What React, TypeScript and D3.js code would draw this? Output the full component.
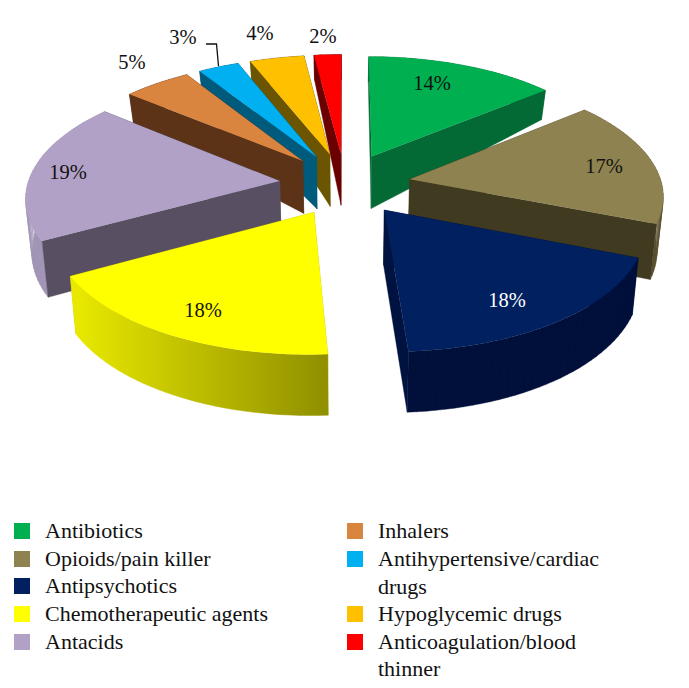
// App.tsx - exploded 3D pie of drug classes
import React from 'react';
import * as d3 from 'd3';

const categories = ['Antibiotics', 'Opioids/pain killer', 'Antipsychotics', 'Chemotherapeutic agents', 'Antacids', 'Inhalers', 'Antihypertensive/cardiac drugs', 'Hypoglycemic drugs', 'Anticoagulation/blood thinner'];
const shares = [14, 17, 18, 18, 19, 5, 3, 4, 2];
const topColors = ['#00b050', '#8e8350', '#002060', '#ffff00', '#b2a1c7', '#d98540', '#00b0f0', '#ffc000', '#ff0000'];
const sideColors = ['#046a35', '#403a20', '#00123f', '#c8c800', '#594f62', '#5c3317', '#005a7c', '#6b5500', '#6b0000'];
const rimColors = ['#046a35', '#5a5030', '#00103a', 'url(#yellowRim)', '#a295b5', '#5c3317', '#005a7c', '#6b5500', '#6b0000'];

// layout of the labels, in page pixels
const labelPos: [number, number][] = [[432, 90], [604, 173], [507, 307], [203, 317], [68, 179], [132, 69], [183, 44], [260, 40], [323, 43]];
const labelFill = ['#111', '#111', '#fff', '#111', '#111', '#111', '#111', '#111', '#111'];
const sliceShift: [number, number][] = [[-2, 0], [-2, 0], [-2, 0], [1, 0], [0, 0], [0, 0], [0, 0], [0, 0], [-1, 0]];
const legendLeft = [[0, 531], [1, 559], [2, 586], [3, 614], [4, 642]];
const legendRight = [[5, 531, 'Inhalers'], [6, 559, 'Antihypertensive/cardiac'], [-1, 587, 'drugs'], [7, 614, 'Hypoglycemic drugs'], [8, 642, 'Anticoagulation/blood'], [-1, 669, 'thinner']] as [number, number, string][];

// camera
const cx = 346, cy = 184;
const scaleX = 252, scaleY = 118, persp = 0.12, explode = 0.265;
const depth = d3.scaleLinear().domain([-1, -0.25, 1.25]).range([25, 52, 61]).clamp(true);

const pie = d3.pie<number>().sort(null).value(d => d);
const line = d3.line();

const project = (x: number, y: number, shift: [number, number]): [number, number] => {
  const w = 1 - persp * y;
  return [cx + scaleX * x / w + shift[0], cy + scaleY * y / w + shift[1]];
};
const drop = (x: number, y: number, shift: [number, number]): [number, number] => {
  const p = project(x, y, shift);
  return [cx + (p[0] - cx) * 0.98, p[1] + depth(y)];
};

const arcs = pie(shares).map((a, i) => {
  const mid = (a.startAngle + a.endAngle) / 2;
  const ox = explode * Math.sin(mid), oy = -explode * Math.cos(mid);
  const shift = sliceShift[i];
  const n = Math.ceil((a.endAngle - a.startAngle) * 30);
  const rim = d3.range(n + 1).map(k => {
    const t = a.startAngle + (a.endAngle - a.startAngle) * k / n;
    return [ox + Math.sin(t), oy - Math.cos(t)] as [number, number];
  });
  return { i, ox, oy, shift, rim };
}).sort((p, q) => p.oy - q.oy);

const Slice = ({ s }: { s: (typeof arcs)[number] }) => {
  const { i, ox, oy, shift, rim } = s;
  const top = (p: [number, number]) => project(p[0], p[1], shift);
  const low = (p: [number, number]) => drop(p[0], p[1], shift);
  const apex: [number, number] = [ox, oy];
  const first = rim[0], last = rim[rim.length - 1];
  // rim goes in as thin quads so the silhouette stays right where it turns away
  const rimPath = d3.pairs(rim).map(([p, q]) => line([top(p), top(q), low(q), low(p)]) + 'Z').join('');
  const walls = [
    { d: line([top(apex), top(first), low(first), low(apex)]) + 'Z', fill: sideColors[i], y: (oy + first[1]) / 2 },
    { d: line([top(apex), top(last), low(last), low(apex)]) + 'Z', fill: sideColors[i], y: (oy + last[1]) / 2 },
    { d: rimPath, fill: rimColors[i], y: d3.mean(rim, p => p[1]) as number },
  ].sort((a, b) => a.y - b.y);
  return (
    <g>
      {walls.map((w, k) => <path key={k} d={w.d} fill={w.fill} stroke={w.fill} strokeWidth={0.4} />)}
      <path d={line([top(apex), ...rim.map(top)]) + 'Z'} fill={topColors[i]} />
    </g>
  );
};

export default function App() {
  const font = '"Liberation Serif", serif';
  return (
    <svg width={689} height={688} style={{ position: 'absolute', left: 0, top: 0, display: 'block', background: '#fff' }} fontFamily={font}>
      <defs>
        <linearGradient id="yellowRim" gradientUnits="userSpaceOnUse" x1={66} x2={328} y1={0} y2={0}>
          <stop offset="0" stopColor="#ecec00" />
          <stop offset="0.5" stopColor="#bdbd00" />
          <stop offset="1" stopColor="#8f8f00" />
        </linearGradient>
      </defs>
      {arcs.map(s => <Slice key={s.i} s={s} />)}
      <path d="M206,44H216.5L218.5,66" fill="none" stroke="#111" strokeWidth={1.3} />
      {shares.map((v, i) => (
        <text key={i} x={labelPos[i][0]} y={labelPos[i][1]} textAnchor="middle" fontSize={20.5} fill={labelFill[i]}>{v}%</text>
      ))}
      {legendLeft.map(([i, y]) => (
        <g key={i}>
          <rect x={14} y={y - 8} width={16} height={16} fill={topColors[i]} />
          <text x={45} y={y + 7} fontSize={22} fill="#111">{categories[i]}</text>
        </g>
      ))}
      {legendRight.map(([i, y, label]) => (
        <g key={y}>
          {i >= 0 && <rect x={347} y={y - 8} width={16} height={16} fill={topColors[i]} />}
          <text x={378} y={y + 7} fontSize={22} fill="#111">{label}</text>
        </g>
      ))}
    </svg>
  );
}
